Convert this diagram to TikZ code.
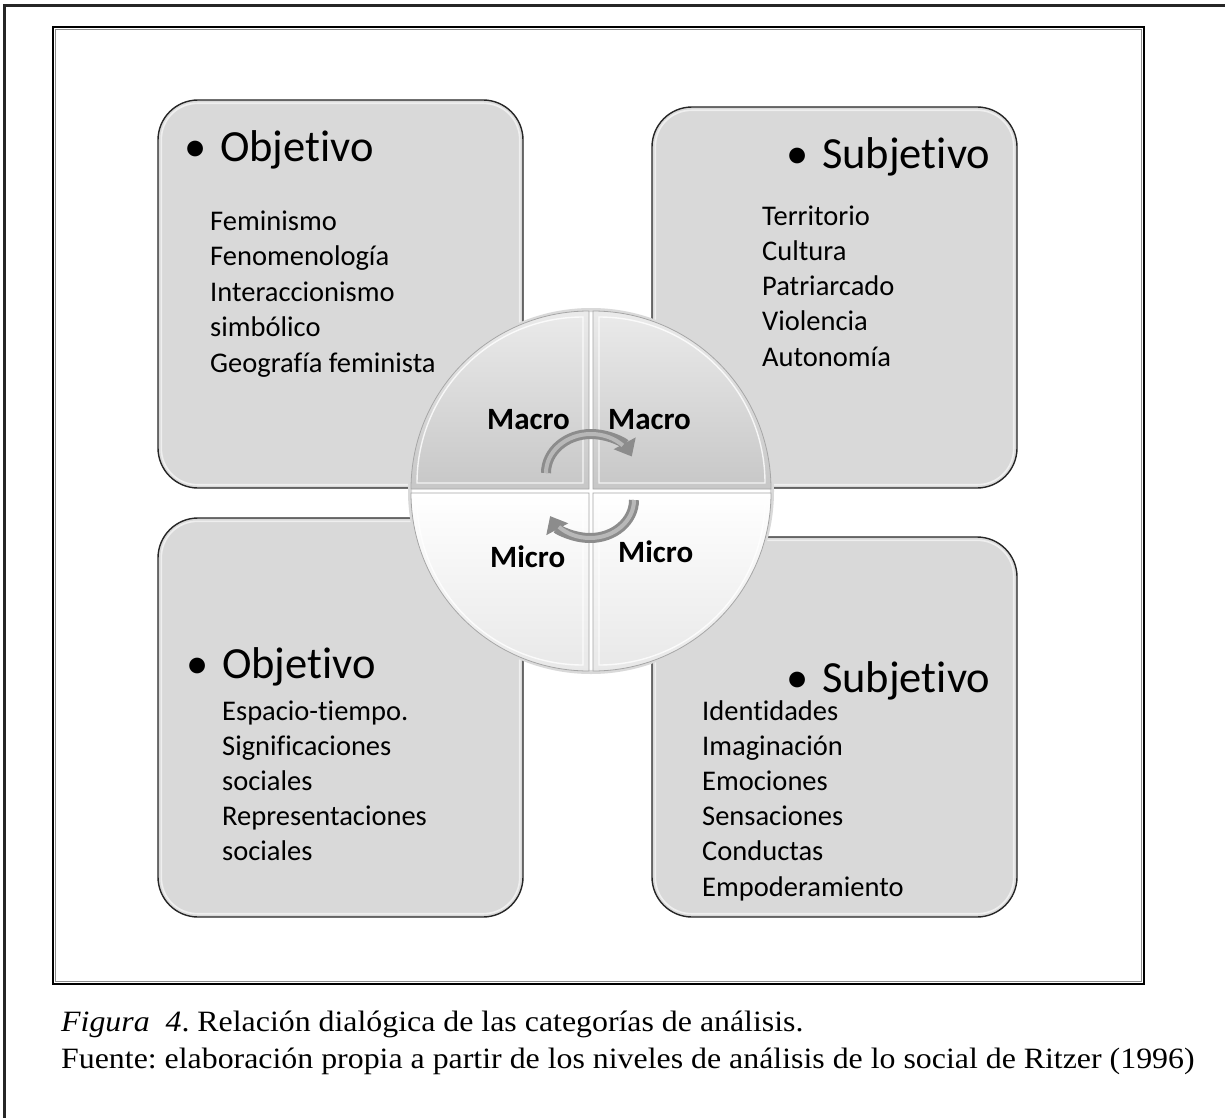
\documentclass[tikz,border=0pt]{standalone}
\usepackage{fontspec}
\setmainfont{Carlito}[Ligatures=NoCommon]
\newfontfamily\captionfont{Liberation Serif}[FakeStretch=1.08]
\usetikzlibrary{arrows.meta}

\tikzset{
  catbox/.style={draw=black!85, line width=1.4pt, fill=black!15, rounded corners=40pt, inner sep=0pt},
  rim/.style={draw=white, line width=1.6pt, opacity=0.6, rounded corners=36pt},
  head/.style={font=\fontsize{44.5}{52}\selectfont, anchor=base west, inner sep=0pt},
  item/.style={font=\fontsize{28.5}{34}\selectfont, anchor=base west, inner sep=0pt},
  level/.style={font=\bfseries\fontsize{31}{36}\selectfont, anchor=base west, inner sep=0pt},
  topq/.style={top color=black!8, bottom color=black!22, draw=black!35, line width=0.8pt},
  botq/.style={top color=white, bottom color=black!9, draw=black!35, line width=0.8pt},
  bevel/.style={draw=white, line width=1.4pt, opacity=0.8},
  cyc/.style={line width=10pt, draw=black!45, -{Triangle[width=24pt,length=15pt]}},
  cycin/.style={line width=4pt, draw=black!28},
  capline/.style={font=\captionfont\frenchspacing\fontsize{29.5}{35}\selectfont, anchor=base west, inner sep=0pt},
  frameline/.style={draw=black!85, line width=2.5pt},
}

\begin{document}
\begin{tikzpicture}[x=1pt, y=-1pt]
  \useasboundingbox (0,0) rectangle (1225,1118);
  \fill[white] (0,0) rectangle (1225,1118);

  % page frame (top and left sides)
  \draw[frameline] (4.5,1118) -- (4.5,5.5) -- (1225,5.5);

  % figure frame: black outer line with a grey inner line
  \draw[black, line width=2.2pt] (53,27) rectangle (1144,984);
  \draw[black!45, line width=1.8pt] (55.5,29.5) rectangle (1141.5,981.5);

  % four category boxes
  \node[catbox, minimum width=365pt, minimum height=388pt] (tl) at (340.5,294) {};
  \node[catbox, minimum width=365pt, minimum height=381pt] (tr) at (834.5,297.5) {};
  \node[catbox, minimum width=365pt, minimum height=399pt] (bl) at (340.5,717.5) {};
  \node[catbox, minimum width=365pt, minimum height=380pt] (br) at (834.5,727) {};
  \foreach \b in {tl,tr,bl,br}
    \draw[rim] ([xshift=4pt,yshift=-4pt]\b.north west) rectangle ([xshift=-4pt,yshift=4pt]\b.south east);

  % headings
  \node[head] (tlh) at (184,162) {\makebox[36pt][l]{•}Objetivo};
  \node[head] (trh) at (786,168) {\makebox[36pt][l]{•}Subjetivo};
  \node[head] (blh) at (186,678) {\makebox[36pt][l]{•}Objetivo};
  \node[head] (brh) at (786,692) {\makebox[36pt][l]{•}Subjetivo};

  % item lists
  \foreach \t [count=\i] in {Feminismo, Fenomenología, Interaccionismo, simbólico, Geografía feminista}
    \node[item] (tl\i) at (210,{230+35.6*(\i-1)}) {\t};
  \foreach \t [count=\i] in {Territorio, Cultura, Patriarcado, Violencia, Autonomía}
    \node[item] (tr\i) at (762,{225+35.3*(\i-1)}) {\t};
  \foreach \t [count=\i] in {Espacio-tiempo., Significaciones, sociales, Representaciones, sociales}
    \node[item] (bl\i) at (222,{720+35*(\i-1)}) {\t};
  \foreach \t [count=\i] in {Identidades, Imaginación, Emociones, Sensaciones, Conductas, Empoderamiento}
    \node[item] (br\i) at (702,{720+35.2*(\i-1)}) {\t};

  % central disc with four quadrants
  \draw[black!15, line width=4pt] (591,491) circle[radius=181];
  \path[topq] (589,489) -- (411,489) arc[start angle=180, end angle=270, radius=178] -- cycle;
  \path[topq] (593,489) -- (593,311) arc[start angle=270, end angle=360, radius=178] -- cycle;
  \path[botq] (593,493) -- (771,493) arc[start angle=0, end angle=90, radius=178] -- cycle;
  \path[botq] (589,493) -- (589,671) arc[start angle=90, end angle=180, radius=178] -- cycle;
  \draw[bevel] (583,483) -- (417,483) arc[start angle=180, end angle=270, radius=166] -- cycle;
  \draw[bevel] (599,483) -- (599,317) arc[start angle=270, end angle=360, radius=166] -- cycle;
  \draw[bevel] (599,499) -- (765,499) arc[start angle=0, end angle=90, radius=166] -- cycle;
  \draw[bevel] (583,499) -- (583,665) arc[start angle=90, end angle=180, radius=166] -- cycle;

  % circular arrows
  \draw[cyc] (546,473) arc[start angle=180, end angle=335, x radius=45, y radius=39];
  \draw[cycin] (546,473) arc[start angle=180, end angle=315, x radius=45, y radius=39];
  \draw[cyc] (634,500) arc[start angle=0, end angle=155, x radius=44, y radius=38];
  \draw[cycin] (634,500) arc[start angle=0, end angle=135, x radius=44, y radius=38];

  % level labels
  \node[level] (ma1) at (487,429) {Macro};
  \node[level] (ma2) at (608,429) {Macro};
  \node[level] (mi1) at (490,567) {Micro};
  \node[level] (mi2) at (618,562) {Micro};

  % caption
  \node[capline] (cap1) at (61,1031) {\textit{Figura\ \ 4}. Relación dialógica de las categorías de análisis.};
  \node[capline] (cap2) at (61,1068) {Fuente: elaboración propia a partir de los niveles de análisis de lo social de Ritzer (1996)};
\end{tikzpicture}
\end{document}
